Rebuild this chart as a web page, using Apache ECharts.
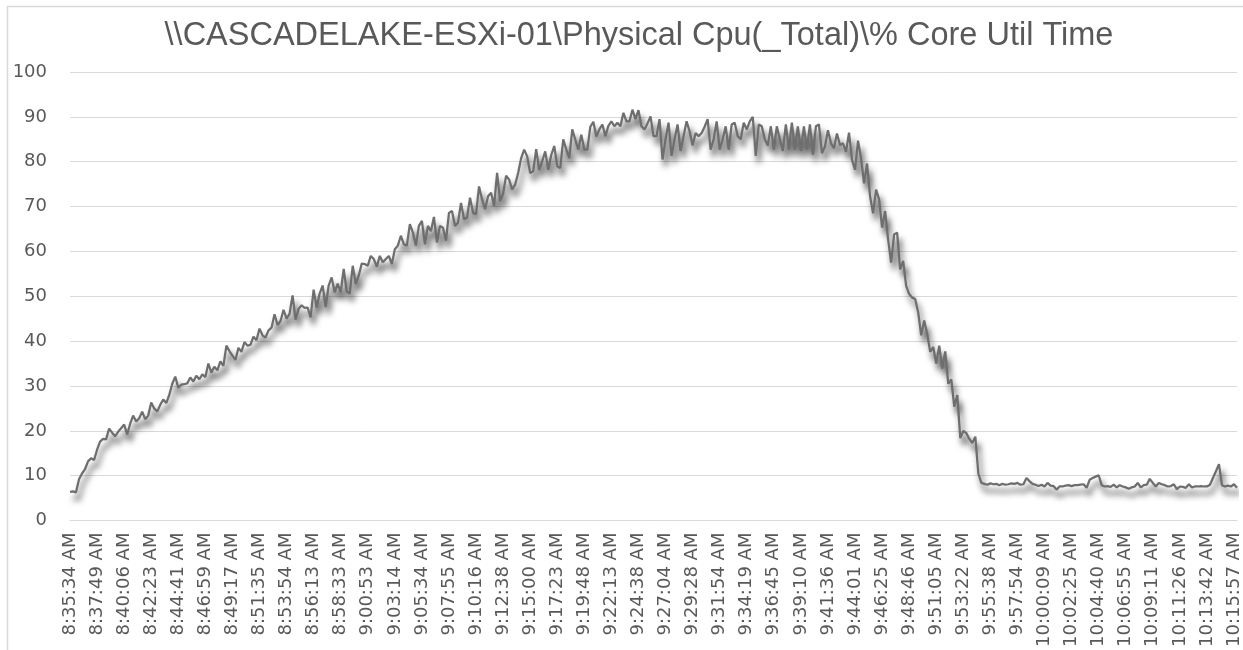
<!DOCTYPE html>
<html>
<head>
<meta charset="utf-8">
<script src="https://cdn.jsdelivr.net/npm/echarts@6/dist/echarts.min.js"></script>
<style>
  html, body { margin: 0; padding: 0; background: #fff; }
  #chart { width: 1243px; height: 650px; }
</style>
</head>
<body>
<div id="chart"></div>
<script>
const titleText = "\\\\CASCADELAKE-ESXi-01\\Physical Cpu(_Total)\\% Core Util Time";

// one label every 9 samples
const tickLabels = [
  "8:35:34 AM", "8:37:49 AM", "8:40:06 AM", "8:42:23 AM", "8:44:41 AM", "8:46:59 AM",
  "8:49:17 AM", "8:51:35 AM", "8:53:54 AM", "8:56:13 AM", "8:58:33 AM", "9:00:53 AM",
  "9:03:14 AM", "9:05:34 AM", "9:07:55 AM", "9:10:16 AM", "9:12:38 AM", "9:15:00 AM",
  "9:17:23 AM", "9:19:48 AM", "9:22:13 AM", "9:24:38 AM", "9:27:04 AM", "9:29:28 AM",
  "9:31:54 AM", "9:34:19 AM", "9:36:45 AM", "9:39:10 AM", "9:41:36 AM", "9:44:01 AM",
  "9:46:25 AM", "9:48:46 AM", "9:51:05 AM", "9:53:22 AM", "9:55:38 AM", "9:57:54 AM",
  "10:00:09 AM", "10:02:25 AM", "10:04:40 AM", "10:06:55 AM", "10:09:11 AM", "10:11:26 AM",
  "10:13:42 AM", "10:15:57 AM"
];
const labelStep = 9;

const cpuValues = [
  6.4, 6.5, 6.3, 9.2, 10.5, 11.5, 13.2, 13.9, 13.5,
  15.8, 17.6, 18.2, 18.1, 20.5, 19.6, 18.8, 19.8, 20.6,
  21.4, 19.2, 21.6, 23.4, 22.1, 22.8, 24.3, 22.6, 23.4,
  26.3, 25.0, 24.3, 25.8, 27.0, 26.2, 28.0, 30.5, 32.1,
  29.6, 30.3, 30.4, 30.6, 31.9, 31.0, 32.3, 31.5, 32.6,
  32.0, 35.0, 33.0, 34.3, 33.5, 35.5, 34.5, 39.0, 37.8,
  36.8, 35.8, 38.5, 37.6, 39.8, 39.0, 39.2, 41.0, 40.2,
  42.8, 41.3, 40.8, 42.4, 43.0, 46.0, 43.6, 44.5, 47.0,
  45.0, 46.1, 50.2, 44.8, 47.2, 48.0, 47.4, 47.5, 45.3,
  51.5, 47.5, 50.6, 52.4, 47.6, 52.4, 54.2, 50.9, 52.8,
  50.9, 56.1, 51.1, 50.6, 56.8, 52.8, 54.6, 57.3, 57.2,
  56.8, 59.0, 58.3, 56.6, 59.0, 57.6, 58.3, 59.0, 57.2,
  60.5, 61.3, 63.5, 61.6, 61.3, 66.1, 64.2, 61.3, 65.7,
  66.8, 61.6, 65.7, 64.5, 67.7, 62.0, 65.7, 65.3, 62.4,
  68.6, 69.0, 65.7, 66.4, 70.8, 67.2, 67.5, 72.0, 68.6,
  68.3, 74.5, 71.6, 69.4, 72.3, 73.1, 70.1, 77.5, 71.2,
  72.9, 76.9, 76.0, 73.8, 74.9, 77.5, 80.8, 82.7, 81.2,
  77.5, 77.9, 82.8, 78.2, 80.1, 82.3, 78.2, 81.5, 83.5,
  79.0, 78.6, 85.0, 82.7, 80.8, 87.2, 84.9, 82.7, 86.0,
  82.7, 82.7, 87.8, 88.9, 85.6, 87.2, 88.3, 85.7, 88.0,
  89.0, 87.9, 88.7, 87.9, 90.9, 89.0, 89.0, 91.6, 89.5,
  91.5, 87.9, 87.2, 88.5, 90.1, 85.7, 85.7, 89.5, 80.5,
  85.0, 88.7, 81.3, 85.0, 88.3, 82.4, 85.7, 89.0, 86.8,
  83.6, 86.4, 85.7, 86.4, 87.8, 89.5, 82.7, 85.0, 89.0,
  82.7, 85.0, 87.9, 82.7, 88.3, 88.7, 85.7, 85.0, 88.7,
  87.2, 89.0, 90.0, 81.3, 88.3, 87.9, 85.0, 83.6, 87.9,
  82.7, 87.9, 85.0, 82.4, 88.3, 82.7, 88.7, 82.7, 87.9,
  82.4, 87.9, 82.7, 88.3, 81.6, 87.9, 88.3, 81.9, 83.4,
  87.0, 84.1, 83.0, 86.3, 83.7, 84.1, 82.2, 86.5, 80.4,
  78.2, 84.7, 80.8, 75.2, 79.6, 72.3, 68.5, 73.8, 71.6,
  65.3, 69.0, 62.7, 57.5, 63.8, 64.2, 56.0, 57.9, 52.3,
  50.5, 49.7, 49.4, 46.4, 41.3, 44.6, 41.6, 37.6, 38.7,
  35.0, 39.0, 33.9, 37.7, 30.5, 31.5, 25.4, 28.0, 18.4,
  20.0, 19.5, 18.2, 17.3, 18.7, 10.5, 8.4, 8.2, 8.0,
  8.3, 8.1, 8.2, 7.9, 8.2, 8.0, 8.1, 8.3, 8.2,
  8.4, 8.0, 8.1, 9.5, 8.8, 8.2, 8.0, 7.7, 8.0,
  7.6, 8.4, 7.8, 7.7, 6.9, 7.6, 7.6, 7.8, 7.9,
  7.7, 7.9, 7.9, 8.0, 8.1, 7.3, 9.1, 9.5, 9.8,
  10.1, 7.9, 7.6, 7.7, 7.5, 8.0, 7.4, 7.9, 7.6,
  7.4, 7.1, 7.4, 7.6, 8.4, 7.4, 7.9, 8.0, 9.3,
  8.4, 7.6, 8.4, 8.1, 7.9, 7.6, 7.7, 8.1, 7.0,
  7.6, 7.5, 7.3, 8.1, 7.4, 7.6, 7.6, 7.7, 7.6,
  7.6, 8.0, 9.5, 11.0, 12.6, 7.9, 7.6, 7.8, 7.6,
  8.1, 7.3
];

const yMin = 0;
const yMax = 100;
const yStep = 10;

const textColor = "#595959";
const gridColor = "#d9d9d9";
const lineColor = "#6e6e6e";

function buildOption() {
  const categories = cpuValues.map((_, i) => String(i));
  return {
    animation: false,
    backgroundColor: "#ffffff",
    title: {
      text: titleText,
      left: 634,
      top: 15,
      textAlign: "center",
      textStyle: {
        color: textColor,
        fontFamily: "Liberation Sans",
        fontSize: 32.5,
        fontWeight: "normal",
      },
    },
    graphic: [
      {
        type: "rect",
        shape: { x: 7.5, y: 6.5, width: 1400, height: 800 },
        style: { fill: "none", stroke: gridColor, lineWidth: 1.5 },
        silent: true,
      },
    ],
    grid: { left: 70, right: 3, top: 72, bottom: 127, containLabel: false },
    xAxis: {
      type: "category",
      data: categories,
      boundaryGap: false,
      axisLine: { show: true, lineStyle: { color: gridColor, width: 1 } },
      axisTick: { show: false },
      splitLine: { show: false },
      axisLabel: {
        interval: labelStep - 1,
        rotate: 90,
        margin: 12,
        color: textColor,
        fontFamily: "DejaVu Sans",
        fontSize: 18,
        formatter: (value, idx) => tickLabels[Math.round(idx / labelStep)] || "",
      },
    },
    yAxis: {
      type: "value",
      min: yMin,
      max: yMax,
      interval: yStep,
      axisLine: { show: false },
      axisTick: { show: false },
      splitLine: { lineStyle: { color: gridColor, width: 1 } },
      axisLabel: {
        margin: 23,
        color: textColor,
        fontFamily: "DejaVu Sans",
        fontSize: 18,
      },
    },
    series: [
      {
        type: "line",
        data: cpuValues,
        symbol: "none",
        smooth: false,
        clip: false,
        itemStyle: { color: lineColor },
        lineStyle: {
          color: lineColor,
          width: 2.25,
          shadowColor: "rgba(0, 0, 0, 0.75)",
          shadowBlur: 6,
          shadowOffsetX: 3,
          shadowOffsetY: 7,
        },
        emphasis: { disabled: true },
      },
    ],
  };
}

const chart = echarts.init(document.getElementById("chart"), null, { renderer: "canvas" });
chart.setOption(buildOption());
</script>
</body>
</html>
